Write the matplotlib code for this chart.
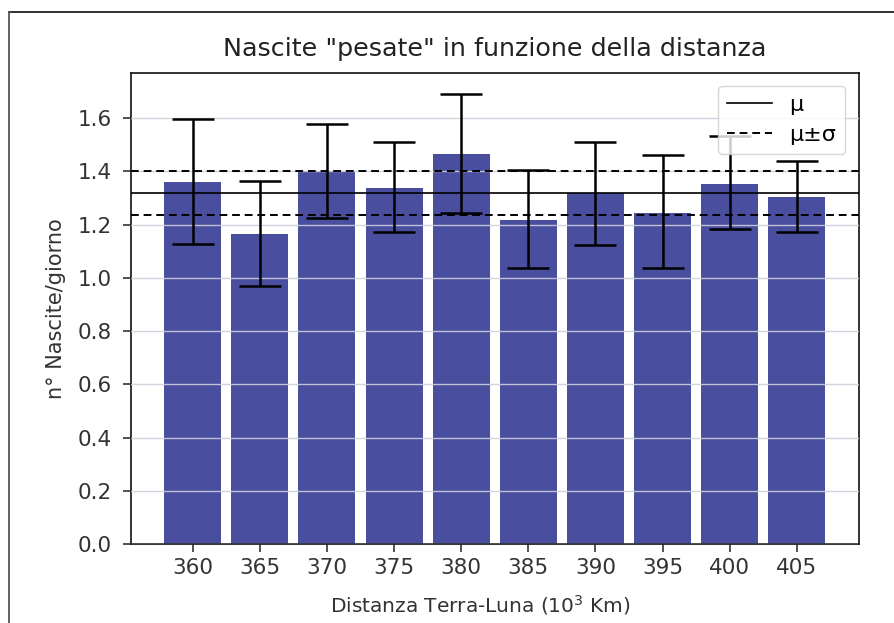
import matplotlib
matplotlib.use("Agg")
import matplotlib.pyplot as plt
from matplotlib.lines import Line2D
import numpy as np

distances = [360, 365, 370, 375, 380, 385, 390, 395, 400, 405]
births = [1.360, 1.164, 1.401, 1.338, 1.464, 1.219, 1.319, 1.244, 1.354, 1.304]
err_upper = [1.596, 1.363, 1.577, 1.511, 1.690, 1.404, 1.510, 1.460, 1.532, 1.439]
err_lower = [1.127, 0.970, 1.225, 1.173, 1.242, 1.039, 1.122, 1.039, 1.184, 1.172]
mu = 1.319
sigma = 0.083

births_a = np.array(births)
yerr = [births_a - np.array(err_lower), np.array(err_upper) - births_a]

fig = plt.figure(figsize=(8.94, 6.23), dpi=100)
ax = fig.add_axes([0.1465, 0.1268, 0.8138, 0.7565])

ax.bar(distances, births, width=4.25, color="#4a4e9e", zorder=1)
ax.grid(axis="y", color="#cfcfdc", linewidth=1.0, alpha=0.9, zorder=2)
ax.set_axisbelow(False)
ax.errorbar(distances, births, yerr=yerr, fmt="none", ecolor="black",
            elinewidth=1.8, capsize=15, capthick=1.8, zorder=4)
ax.axhline(mu, color="black", linewidth=1.2, label="μ", zorder=3)
ax.axhline(mu + sigma, color="black", linewidth=1.4, linestyle=(0, (4, 2.5)), label="μ±σ", zorder=3)
ax.axhline(mu - sigma, color="black", linewidth=1.4, linestyle=(0, (4, 2.5)), zorder=3)

ax.set_xticks(distances)
ax.set_xticklabels([str(d) for d in distances])
ax.set_yticks(np.arange(0, 1.61, 0.2))
ax.set_yticklabels([f"{v:.1f}" for v in np.arange(0, 1.61, 0.2)])
ax.set_ylim(0, 1.771)
ax.set_xlim(355.4, 409.6)

ax.tick_params(labelsize=15.5, length=6, width=1.1, colors="#222222", labelcolor="#333333")
ax.tick_params(axis="y", pad=8)
ax.tick_params(axis="x", pad=4)
for s in ax.spines.values():
    s.set_linewidth(1.2)
    s.set_color("#111111")

ax.set_title('Nascite "pesate" in funzione della distanza', fontsize=18.3, color="#222222", pad=12)
ax.set_xlabel("Distanza Terra-Luna (10$^3$ Km)", fontsize=14.5, color="#333333")
ax.xaxis.set_label_coords(0.48, -0.105)
ax.set_ylabel("n° Nascite/giorno", fontsize=15, color="#333333", labelpad=8)

leg = ax.legend(loc="upper right", fontsize=16, framealpha=0.8, handlelength=2.0,
                borderaxespad=0.6, labelspacing=0.45)
leg.set_zorder(10)

fig.add_artist(Line2D([9 / 894, 1.0], [1 - 12 / 623, 1 - 12 / 623], transform=fig.transFigure,
                      color="#222222", linewidth=1.3))
fig.add_artist(Line2D([9 / 894, 9 / 894], [0, 1 - 12 / 623], transform=fig.transFigure,
                      color="#555555", linewidth=1.3))

fig.savefig("out.png", dpi=100, facecolor="white")
